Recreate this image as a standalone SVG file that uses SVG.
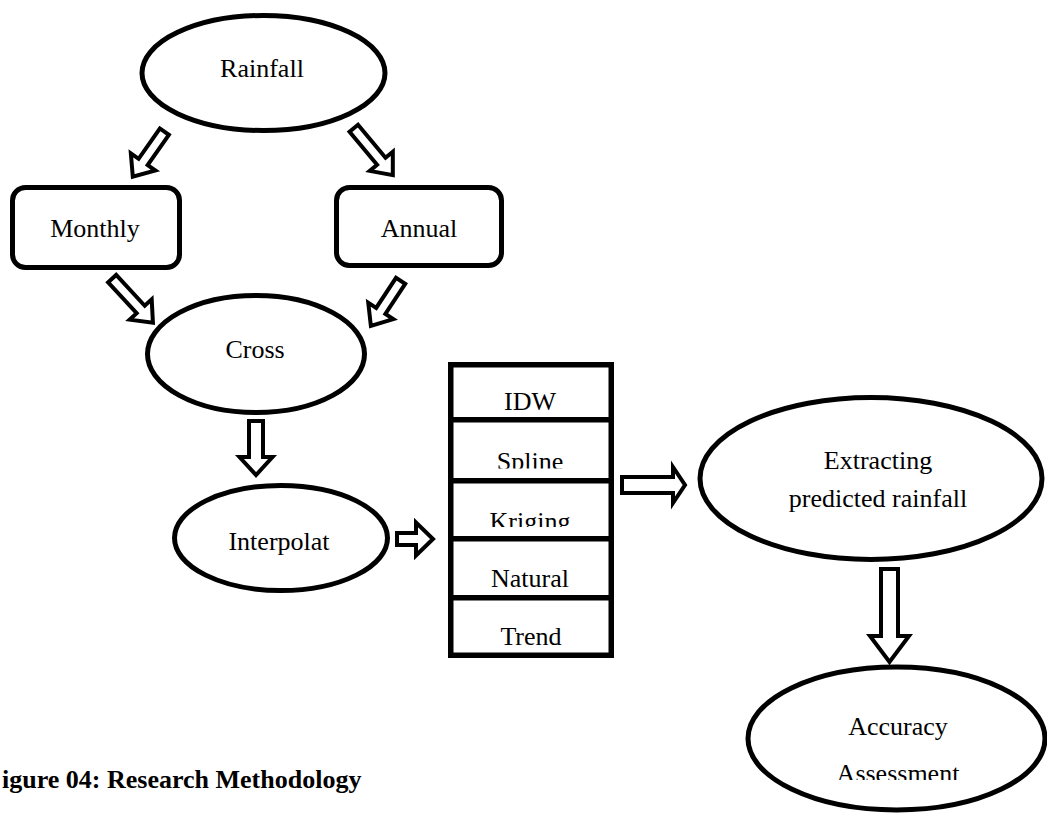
<svg xmlns="http://www.w3.org/2000/svg" width="1047" height="814" viewBox="0 0 1047 814">
<style>
.shape{fill:#fff;stroke:#000;stroke-width:5}
.cell{fill:#fff;stroke:#000;stroke-width:5.5}
.arrow{fill:#fff;stroke:#000;stroke-width:4;stroke-linejoin:miter}
.lbl{font-family:"Liberation Serif","Times New Roman",serif;font-size:26px;fill:#000;text-anchor:middle}
.cap{font-family:"Liberation Serif","Times New Roman",serif;font-size:26px;font-weight:bold;fill:#000}
</style>
<defs>
<clipPath id="clipSpline"><rect x="440" y="420" width="180" height="48.5"/></clipPath>
<clipPath id="clipKriging"><rect x="440" y="480" width="180" height="47"/></clipPath>
<clipPath id="clipAssess"><rect x="740" y="740" width="310" height="40"/></clipPath>
</defs>
<rect width="1047" height="814" fill="#fff"/>

<g id="connectors">
<path class="arrow" transform="translate(165.5,130) rotate(125)" d="M2,-5.5 L39,-5.5 L39,-15 L57,0 L39,15 L39,5.5 L2,5.5 Z"/>
<path class="arrow" transform="translate(352.5,126.7) rotate(50.2)" d="M2,-5.5 L45,-5.5 L45,-15 L63,0 L45,15 L45,5.5 L2,5.5 Z"/>
<path class="arrow" transform="translate(110.8,277.2) rotate(47.2)" d="M2,-5.5 L44,-5.5 L44,-15 L62,0 L44,15 L44,5.5 L2,5.5 Z"/>
<path class="arrow" transform="translate(401.7,279.2) rotate(123.4)" d="M2,-5.5 L38,-5.5 L38,-15 L56,0 L38,15 L38,5.5 L2,5.5 Z"/>
<path class="arrow" transform="translate(256,419) rotate(90)" d="M2,-7 L38,-7 L38,-16.5 L56,0 L38,16.5 L38,7 L2,7 Z"/>
<path class="arrow" transform="translate(395,539)" d="M2,-6 L21,-6 L21,-16.5 L38,0 L21,16.5 L21,6 L2,6 Z"/>
<path class="arrow" transform="translate(620,485)" d="M2,-8 L53,-8 L53,-18 L65,0 L53,18 L53,8 L2,8 Z"/>
<path class="arrow" transform="translate(889.5,567) rotate(90)" d="M2,-8.5 L69,-8.5 L69,-19.5 L95,0 L69,19.5 L69,8.5 L2,8.5 Z"/>
</g>

<g id="rainfall">
<ellipse class="shape" cx="263.5" cy="73" rx="121.5" ry="57.5"/>
<text class="lbl" x="262" y="77">Rainfall</text>
</g>
<g id="monthly">
<rect class="shape" x="12.5" y="187.5" width="167" height="80" rx="13"/>
<text class="lbl" x="95" y="237">Monthly</text>
</g>
<g id="annual">
<rect class="shape" x="336.5" y="187.5" width="165" height="78" rx="13"/>
<text class="lbl" x="419" y="237">Annual</text>
</g>
<g id="cross">
<ellipse class="shape" cx="256" cy="354" rx="108.5" ry="58.5"/>
<text class="lbl" x="255" y="358">Cross</text>
</g>
<g id="interpolat">
<ellipse class="shape" cx="281" cy="538" rx="106.5" ry="52.5"/>
<text class="lbl" x="279" y="550">Interpolat</text>
</g>

<g id="idw">
<rect class="cell" x="450.75" y="364.75" width="160.5" height="55.5"/>
<text class="lbl" x="530" y="410">IDW</text>
</g>
<g id="spline">
<rect class="cell" x="450.75" y="419.75" width="160.5" height="62.5"/>
<text class="lbl" x="530" y="470" clip-path="url(#clipSpline)">Spline</text>
</g>
<g id="kriging">
<rect class="cell" x="450.75" y="480.75" width="160.5" height="61.5"/>
<text class="lbl" x="530" y="529.5" clip-path="url(#clipKriging)">Kriging</text>
</g>
<g id="natural">
<rect class="cell" x="450.75" y="538.75" width="160.5" height="59.5"/>
<text class="lbl" x="530" y="587">Natural</text>
</g>
<g id="trend">
<rect class="cell" x="450.75" y="597.75" width="160.5" height="57.5"/>
<text class="lbl" x="531" y="645">Trend</text>
</g>

<g id="extracting">
<ellipse class="shape" cx="871" cy="478.5" rx="171" ry="81"/>
<text class="lbl" x="878" y="469">Extracting</text>
<text class="lbl" x="878" y="507">predicted rainfall</text>
</g>
<g id="accuracy">
<ellipse class="shape" cx="896.5" cy="738.5" rx="148.5" ry="71.5"/>
<text class="lbl" x="898" y="735">Accuracy</text>
<text class="lbl" x="898" y="782" clip-path="url(#clipAssess)">Assessment</text>
</g>

<g id="caption">
<text class="cap" x="2" y="788">igure 04: Research Methodology</text>
</g>
</svg>
